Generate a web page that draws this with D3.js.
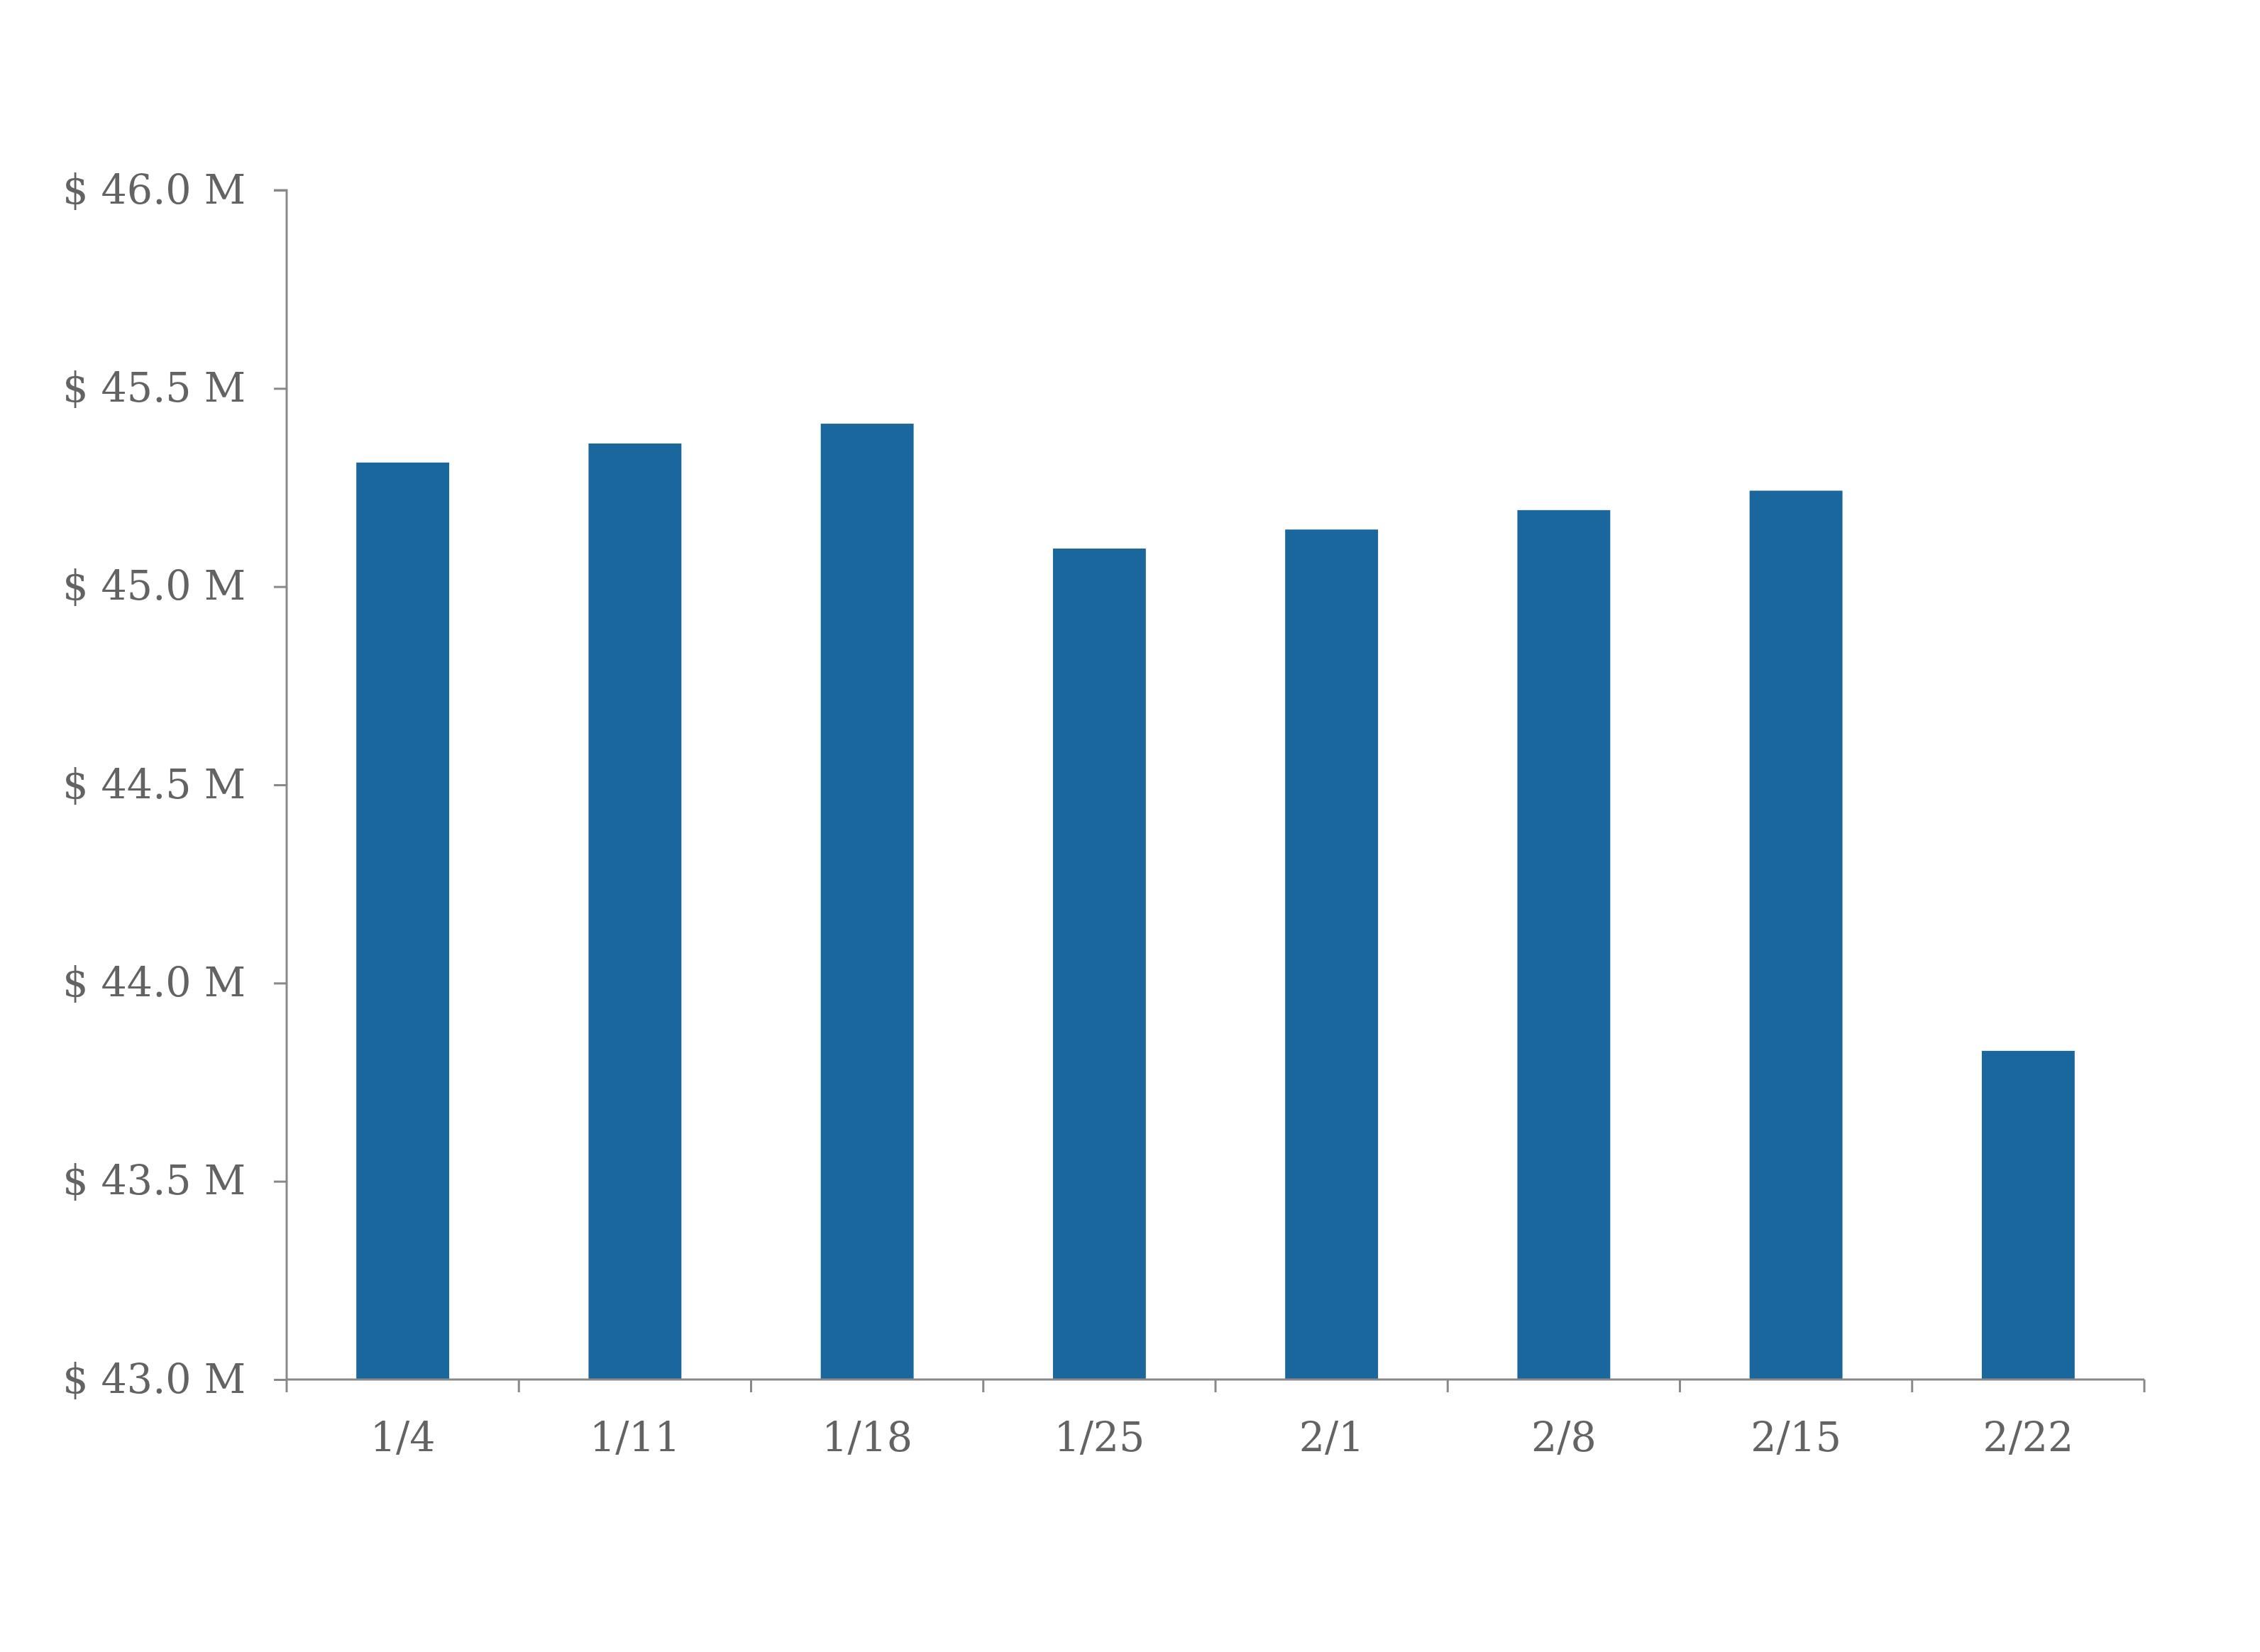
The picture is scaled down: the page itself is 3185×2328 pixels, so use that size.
<!DOCTYPE html>
<html>
<head>
<meta charset="utf-8">
<script src="https://cdn.jsdelivr.net/npm/d3@7"></script>
<style>
  html, body { margin: 0; padding: 0; background: #ffffff; }
  svg { display: block; }
</style>
</head>
<body>
<svg id="chart" width="3185" height="2328"></svg>
<script>
const categories = ["1/4", "1/11", "1/18", "1/25", "2/1", "2/8", "2/15", "2/22"];
const values = [45.313, 45.361, 45.411, 45.096, 45.144, 45.193, 45.242, 43.829];
const yTicks = [43.0, 43.5, 44.0, 44.5, 45.0, 45.5, 46.0];

(function () {
const svg = d3.select("#chart");
const mLeft = 404, mRight = 3022, mTop = 268, mBottom = 1944;
const axisColor = "#898989";
const textColor = "#636363";
const fontFamily = "'DejaVu Serif', 'Liberation Serif', serif";

const x = d3.scaleBand().domain(categories).range([mLeft, mRight])
  .paddingInner(0.6).paddingOuter(0.3);
const y = d3.scaleLinear().domain([43, 46]).range([mBottom, mTop]);

// bars
svg.append("g").selectAll("rect").data(values).join("rect")
  .attr("x", (d, i) => x(categories[i]))
  .attr("width", x.bandwidth())
  .attr("y", d => y(d))
  .attr("height", d => y(43) - y(d))
  .attr("fill", "#1A679E");

// y axis
const yAxis = svg.append("g").attr("transform", `translate(${mLeft},0)`)
  .call(d3.axisLeft(y).tickValues(yTicks).tickSize(18).tickPadding(40)
    .tickFormat(d => "$ " + d3.format(".1f")(d) + " M"));
yAxis.select(".domain").attr("stroke", axisColor).attr("stroke-width", 3)
  .attr("d", `M-18,${mTop}H0V${mBottom}`);
yAxis.selectAll(".tick line").attr("stroke", axisColor).attr("stroke-width", 3);
yAxis.selectAll(".tick text").attr("fill", textColor)
  .style("font-family", fontFamily).style("font-size", "57px");

// x axis
const xb = d3.scaleLinear().domain([0, categories.length]).range([mLeft, mRight]);
const xAxisG = svg.append("g").attr("transform", `translate(0,${mBottom})`);
xAxisG.append("line").attr("x1", mLeft).attr("x2", mRight).attr("y1", 0).attr("y2", 0)
  .attr("stroke", axisColor).attr("stroke-width", 3);
xAxisG.selectAll("line.tk").data(d3.range(categories.length + 1)).join("line")
  .attr("class", "tk")
  .attr("x1", d => xb(d)).attr("x2", d => xb(d))
  .attr("y1", 0).attr("y2", 18)
  .attr("stroke", axisColor).attr("stroke-width", 3);
xAxisG.selectAll("text").data(categories).join("text")
  .attr("x", d => x(d) + x.bandwidth() / 2)
  .attr("y", 101)
  .attr("text-anchor", "middle")
  .attr("fill", textColor)
  .style("font-family", fontFamily).style("font-size", "57px")
  .text(d => d);
})();
</script>
</body>
</html>
